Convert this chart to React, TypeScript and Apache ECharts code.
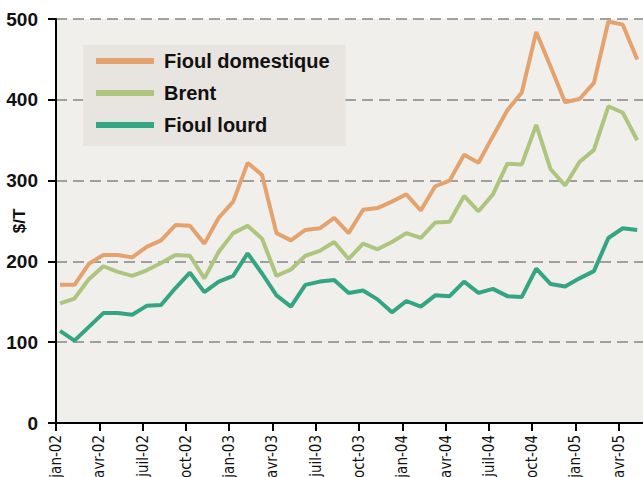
import React, { useEffect, useRef } from "react";
import * as echarts from "echarts";

const tickLabels = [
  "jan-02", "avr-02", "juil-02", "oct-02",
  "jan-03", "avr-03", "juil-03", "oct-03",
  "jan-04", "avr-04", "juil-04", "oct-04",
  "jan-05", "avr-05",
];

// monthly values, jan-02 .. mai-05 ($/T)
const fioulDomestique = [
  171, 171, 197, 208, 208, 205, 218, 226, 245, 244, 222, 254,
  274, 322, 307, 235, 226, 239, 241, 254, 235, 264, 266, 274,
  283, 263, 293, 300, 332, 322, 355, 387, 409, 484, 441, 397,
  401, 421, 497, 493, 450,
];
const brent = [
  148, 154, 178, 194, 187, 182, 189, 198, 208, 207, 179, 212,
  235, 244, 228, 182, 190, 207, 213, 224, 203, 222, 215, 224,
  235, 229, 248, 249, 281, 262, 283, 321, 320, 369, 314, 294,
  323, 338, 392, 384, 350,
];
const fioulLourd = [
  114, 102, 119, 136, 136, 134, 145, 146, 167, 186, 162, 175,
  182, 210, 185, 158, 144, 171, 175, 177, 161, 164, 153, 137,
  151, 144, 158, 157, 175, 161, 166, 157, 156, 191, 172, 169,
  179, 188, 229, 241, 239,
];

const seriesNames = ["Fioul domestique", "Brent", "Fioul lourd"];
const seriesColors = ["#e4a26e", "#adc57f", "#34a582"];

const MONTH_OFFSET = 0.28;

const toPoints = (vals: number[]) => vals.map((v, i) => [i + MONTH_OFFSET, v]);

const narrow = "'Liberation Sans Narrow', 'DejaVu Sans Condensed', sans-serif";
const boldFont = "'Liberation Sans', Arial, sans-serif";

export default function App() {
  const ref = useRef<HTMLDivElement>(null);
  useEffect(() => {
    if (!ref.current) return;
    const chart = echarts.init(ref.current, undefined, { renderer: "svg" });
    const allSeries = [fioulDomestique, brent, fioulLourd];
    chart.setOption({
      animation: false,
      grid: {
        left: 56,
        top: 19,
        right: 0,
        bottom: 54,
        containLabel: false,
        outerBoundsMode: "none",
        show: true,
        backgroundColor: "#f1efec",
        borderWidth: 0,
      },
      legend: {
        left: 83,
        top: 45,
        orient: "vertical",
        backgroundColor: "#e8e4df",
        padding: [5, 16, 10, 13],
        itemWidth: 58,
        itemHeight: 6,
        itemGap: 10,
        icon: "rect",
        textStyle: {
          fontFamily: boldFont,
          fontWeight: "bold",
          fontSize: 20,
          lineHeight: 22,
          color: "#111",
          padding: [0, 0, 0, 5],
        },
        data: seriesNames,
      },
      xAxis: {
        type: "value",
        min: 0,
        max: 40.68,
        interval: 3,
        splitLine: { show: false },
        axisLine: { show: true, lineStyle: { color: "#000", width: 2 } },
        axisTick: { show: true, length: 8, lineStyle: { color: "#000", width: 2 } },
        axisLabel: {
          rotate: 90,
          margin: 12,
          fontFamily: narrow,
          fontSize: 15,
          color: "#111",
          showMaxLabel: false,
          formatter: (v: number) => {
            const k = Math.round(v / 3);
            return Math.abs(v - k * 3) < 1e-6 && tickLabels[k] ? tickLabels[k] : "";
          },
        },
      },
      yAxis: {
        type: "value",
        min: 0,
        max: 500,
        interval: 100,
        name: "$/T",
        nameLocation: "middle",
        nameRotate: 90,
        nameGap: 28,
        nameMoveOverlap: false,
        nameTextStyle: {
          fontFamily: boldFont,
          fontWeight: "bold",
          fontSize: 17,
          color: "#111",
        },
        axisLine: { show: true, lineStyle: { color: "#000", width: 2 } },
        axisTick: { show: true, length: 8, lineStyle: { color: "#000", width: 2 } },
        axisLabel: {
          margin: 18,
          fontFamily: boldFont,
          fontWeight: "bold",
          fontSize: 19,
          color: "#111",
        },
        splitLine: {
          show: true,
          lineStyle: { color: "#858585", width: 1.5, type: [11, 6] },
        },
      },
      series: allSeries.map((vals, k) => ({
        name: seriesNames[k],
        type: "line",
        data: toPoints(vals),
        showSymbol: false,
        symbol: "none",
        itemStyle: { color: seriesColors[k] },
        lineStyle: { color: seriesColors[k], width: 4 },
      })),
    });
    return () => chart.dispose();
  }, []);
  return (
    <div
      ref={ref}
      style={{ position: "absolute", left: 0, top: 0, width: 643, height: 477 }}
    />
  );
}
